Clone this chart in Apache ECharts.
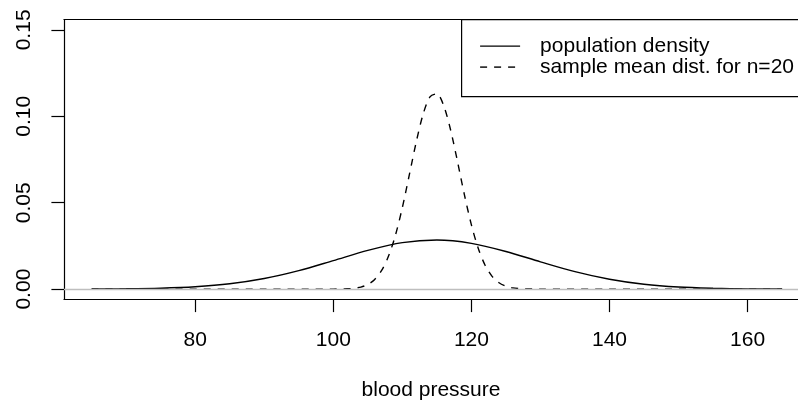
<!DOCTYPE html>
<html>
<head>
<meta charset="utf-8">
<script src="https://cdn.jsdelivr.net/npm/echarts@6/dist/echarts.min.js"></script>
<style>
  html, body { margin: 0; padding: 0; background: #fff; }
  #chart { width: 798px; height: 403px; }
</style>
</head>
<body>
<div id="chart"></div>
<script>
// population density
let popX = [65, 70, 75, 80, 85, 90, 95, 100, 105, 110, 115, 120, 125, 130, 135, 140, 145, 150, 155, 160, 165]
let popY = [0.00006, 0.00019, 0.00054, 0.00138, 0.00309, 0.00612, 0.0107, 0.0165, 0.0224, 0.0269, 0.0284,
  0.0265, 0.0218, 0.0158, 0.0101, 0.0057, 0.0028, 0.0012, 0.0005, 0.00016, 0.00005]

// sample mean distribution (n=20)
let sampX = [65, 90, 100, 101, 102, 103, 104, 105, 106, 107, 108, 109, 110, 111, 112, 113, 114, 115,
  116, 117, 118, 119, 120, 121, 122, 123, 124, 125, 126, 127, 128, 129, 130, 140, 165]
let sampY = [0, 0, 0.00002, 0.00007, 0.0002, 0.0005, 0.0012, 0.0027, 0.0056, 0.0108, 0.0191, 0.0312, 0.0472,
  0.0659, 0.0849, 0.1011, 0.1112, 0.113, 0.106, 0.0919, 0.0736, 0.0544, 0.0372, 0.0235, 0.0137, 0.0074,
  0.0037, 0.0017, 0.0007, 0.0003, 0.0001, 0.00003, 0.00001, 0, 0]

let xTicks = [80, 100, 120, 140, 160]
let yTicks = [0, 0.05, 0.1, 0.15]
let legendNames = ['population density', 'sample mean dist. for n=20']
let xTitle = 'blood pressure'

let font = 'Liberation Sans, Arial, Helvetica, sans-serif'
let lw = 1.4

let chart = echarts.init(document.getElementById('chart'), null, { renderer: 'canvas' })

// the plot box runs past the right edge of the picture, so the x range is cut at the canvas edge
let option = {
  animation: false,
  backgroundColor: '#fff',
  grid: { left: 64, top: 19.5, right: 0, height: 280, show: false, outerBoundsMode: 'none', containLabel: false },
  xAxis: [
    {
      type: 'value', min: 61, max: 167.3,
      name: xTitle, nameLocation: 'middle', nameGap: 80,
      nameTextStyle: { fontFamily: font, fontSize: 21, color: '#000' },
      axisLine: { show: true, onZero: false, lineStyle: { color: '#000', width: 1.2 } },
      axisTick: { show: true, length: 12.6, customValues: xTicks, lineStyle: { color: '#000', width: 1.2 } },
      axisLabel: { customValues: xTicks, margin: 30, fontFamily: font, fontSize: 21, color: '#000' },
      splitLine: { show: false }
    },
    {
      type: 'value', position: 'top', min: 61, max: 167.3,
      axisLine: { show: true, onZero: false, lineStyle: { color: '#000', width: 1.2 } },
      axisTick: { show: false }, axisLabel: { show: false }, splitLine: { show: false }
    }
  ],
  yAxis: {
    type: 'value', min: -0.006, max: 0.156,
    axisLine: { show: true, onZero: false, lineStyle: { color: '#000', width: 1.2 } },
    axisTick: { show: true, length: 12.6, customValues: yTicks, lineStyle: { color: '#000', width: 1.2 } },
    axisLabel: {
      customValues: yTicks, rotate: 90, margin: 29,
      fontFamily: font, fontSize: 21, color: '#000',
      formatter: v => v.toFixed(2)
    },
    splitLine: { show: false }
  },
  series: [
    {
      type: 'line', data: [], z: 1, silent: true,
      markLine: {
        silent: true, symbol: 'none', label: { show: false },
        lineStyle: { color: '#bebebe', type: 'solid', width: lw },
        data: [{ yAxis: 0 }]
      }
    },
    {
      name: legendNames[0], type: 'line', z: 2, smooth: 0.3, showSymbol: false,
      data: popX.map((x, i) => [x, popY[i]]),
      lineStyle: { color: '#000', width: lw }
    },
    {
      name: legendNames[1], type: 'line', z: 3, smooth: 0.3, showSymbol: false,
      data: sampX.map((x, i) => [x, sampY[i]]),
      lineStyle: { color: '#000', width: lw, type: [7, 7] }
    }
  ],
  graphic: [
    {
      type: 'group', left: 461, top: 19, silent: true,
      children: [
        { type: 'rect', shape: { x: 0.5, y: 0.5, width: 400, height: 77 }, style: { fill: '#fff', stroke: '#000', lineWidth: 1.2 } },
        { type: 'line', shape: { x1: 19, y1: 27, x2: 59, y2: 27 }, style: { stroke: '#000', lineWidth: lw } },
        { type: 'line', shape: { x1: 19, y1: 48, x2: 59, y2: 48 }, style: { stroke: '#000', lineWidth: lw, lineDash: [7, 7] } },
        { type: 'text', x: 79, y: 27, style: { text: legendNames[0], font: '21px ' + font, fill: '#000', verticalAlign: 'middle' } },
        { type: 'text', x: 79, y: 48, style: { text: legendNames[1], font: '21px ' + font, fill: '#000', verticalAlign: 'middle' } }
      ]
    }
  ]
}

chart.setOption(option)
</script>
</body>
</html>
